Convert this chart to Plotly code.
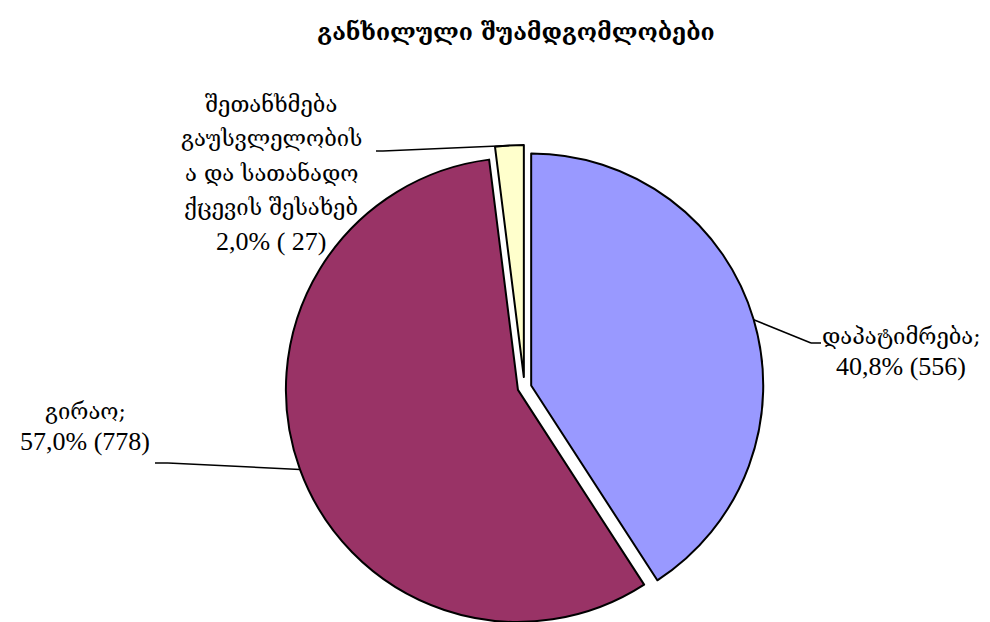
import math
import plotly.graph_objects as go

# ---- data ----
categories = ["დაპატიმრება;", "გირაო;", "შეთანხმება გაუსვლელობის ა და სათანადო ქცევის შესახებ"]
label_lines = [
    ["დაპატიმრება;"],
    ["გირაო;"],
    ["შეთანხმება", "გაუსვლელობის", "ა და სათანადო", "ქცევის შესახებ"],
]
counts = [556, 778, 27]
percents = [40.8, 57.0, 2.0]
colors = ["#9999FF", "#993366", "#FFFFCC"]
pulls = [0.03, 0.03, 0.045]
title_text = "განხილული შუამდგომლობები"

# ---- layout geometry (pixels) ----
FW, FH = 990, 622
L, T, B = 274, 137, 0
H = FH - T - B
W = H
R = FW - L - W

def px(x):
    return (x - L) / W

def py(y):
    return 1 - (y - T) / H

FONT = "Liberation Serif, DejaVu Serif, serif"
GEO_FONT = "DejaVu Serif, Liberation Serif, serif"

fig = go.Figure(go.Pie(
    labels=categories,
    values=counts,
    sort=False,
    direction="clockwise",
    rotation=0,
    pull=pulls,
    textinfo="none",
    hoverinfo="label+value+percent",
    marker=dict(colors=colors, line=dict(color="#000000", width=2)),
    showlegend=False,
))

# pie geometry as plotly computes it
cx, cy = L + W / 2, T + H / 2
rad = min(W, H) / (2 + 2 * max(pulls))
total = sum(counts)
cum = 0
mids = []
for v in counts:
    mids.append((cum + v / 2) / total * 360)
    cum += v

def slice_point(i):
    th = math.radians(mids[i])
    rr = rad * (1 + pulls[i])
    return cx + rr * math.sin(th), cy - rr * math.cos(th)

def fmt(i):
    return f"{percents[i]:.1f}".replace(".", ",") + "%"

value_lines = [
    f"{fmt(0)} ({counts[0]})",
    f"{fmt(1)} ({counts[1]})",
    f"{fmt(2)} ( {counts[2]})",
]

# label placement (pixels): center x, first line y, line step, elbow, end
label_pos = [
    dict(x=893, y=328, step=30, elbow=(803, 335), end=(813, 335)),
    dict(x=77, y=403, step=30, elbow=(160, 455), end=(147, 455)),
    dict(x=263, y=96, step=34.5, elbow=(375, 143), end=(368, 143)),
]

annotations = []
shapes = []
for i, lp in enumerate(label_pos):
    lines = label_lines[i]
    for k, t in enumerate(lines):
        annotations.append(dict(
            x=px(lp["x"]), y=py(lp["y"] + k * lp["step"]), xref="paper", yref="paper",
            text=t, showarrow=False, xanchor="center", yanchor="middle",
            font=dict(family=GEO_FONT, size=22, color="#000000"),
        ))
    annotations.append(dict(
        x=px(lp["x"]), y=py(lp["y"] + len(lines) * lp["step"]), xref="paper", yref="paper",
        text=value_lines[i], showarrow=False, xanchor="center", yanchor="middle",
        font=dict(family=FONT, size=26, color="#000000"),
    ))
    sx, sy = slice_point(i)
    ex, ey = lp["elbow"]
    fx, fy = lp["end"]
    for (x0, y0, x1, y1) in [(sx, sy, ex, ey), (ex, ey, fx, fy)]:
        shapes.append(dict(
            type="line", xref="paper", yref="paper",
            x0=px(x0), y0=py(y0), x1=px(x1), y1=py(y1),
            line=dict(color="#000000", width=1.5),
        ))

fig.update_layout(
    width=FW, height=FH,
    margin=dict(l=L, r=R, t=T, b=B),
    paper_bgcolor="#FFFFFF",
    plot_bgcolor="#FFFFFF",
    title=dict(
        text=f"<b>{title_text}</b>", x=508 / FW, xref="container", xanchor="center",
        y=1 - 24 / FH, yref="container", yanchor="middle",
        font=dict(family=GEO_FONT, size=23, color="#000000"),
    ),
    annotations=annotations,
    shapes=shapes,
)

fig.write_html("out.html")
